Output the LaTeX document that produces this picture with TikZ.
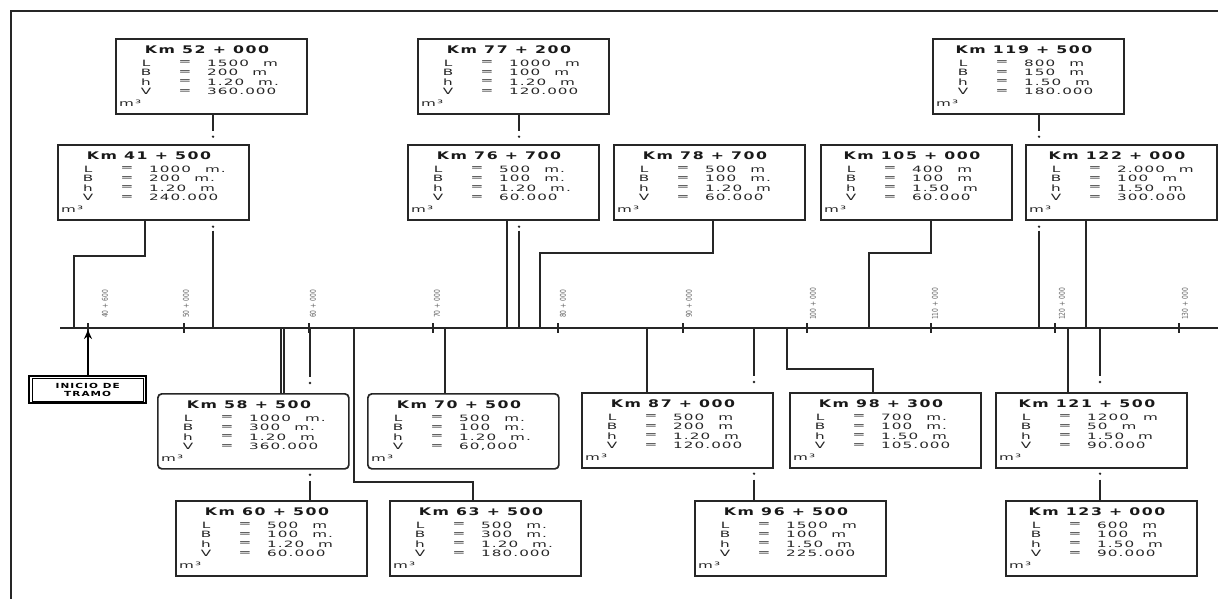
\documentclass[tikz,border=0pt]{standalone}
\usepackage{fontspec}
\newfontfamily\tfont[FakeStretch=1.5,LetterSpace=15]{DejaVu Sans Bold}
\newfontfamily\bfont[FakeStretch=1.75,LetterSpace=12]{DejaVu Sans}
\newfontfamily\cfont[FakeStretch=0.75]{DejaVu Sans}
\usetikzlibrary{arrows.meta,calc}
\tikzset{
 kbox/.style={draw=black!85, line width=1.7pt, fill=white, minimum width=191pt, minimum height=75pt, inner sep=0pt, anchor=north west},
 ktitle/.style={font=\tfont\fontsize{10.5}{12}\selectfont, inner sep=0pt, text=black!90},
 kbody/.style={font=\bfont\fontsize{8.7}{10}\selectfont, inner sep=0pt, text=black!85},
 kval/.style={kbody, anchor=west},
 conn/.style={line width=1.7pt, draw=black!85},
 dotc/.style={fill=black!85},
 tickmark/.style={line width=1.6pt, draw=black!85},
 ticklab/.style={font=\cfont\fontsize{8}{9}\selectfont, rotate=90, inner sep=0pt, text=black!60},
}
\newcommand\uu{\hspace{14pt}}
\newcommand\kmbox[9]{%
 \node[kbox,#1] (#2) at (#3,#4) {};
 \node[ktitle] (#2t) at (#3+92,#4+12) {#5};
 \node[kbody] (#2a) at (#3+31,#4+25) {L};
 \node[kbody] (#2b) at (#3+31,#4+34.5) {B};
 \node[kbody] (#2c) at (#3+31,#4+44) {h};
 \node[kbody] (#2d) at (#3+31,#4+53.5) {V};
 \node[kbody] (#2e) at (#3+70,#4+25) {=};
 \node[kbody] (#2f) at (#3+70,#4+34.5) {=};
 \node[kbody] (#2g) at (#3+70,#4+44) {=};
 \node[kbody] (#2h) at (#3+70,#4+53.5) {=};
 \node[kval] (#2i) at (#3+92,#4+25) {#6};
 \node[kval] (#2j) at (#3+92,#4+34.5) {#7};
 \node[kval] (#2k) at (#3+92,#4+44) {#8};
 \node[kval] (#2l) at (#3+92,#4+53.5) {#9};
 \node[kval] (#2m) at (#3+4,#4+65) {m³};
}
\begin{document}
\begin{tikzpicture}[x=1pt,y=-1pt]
\useasboundingbox (0,0) rectangle (1218,599);
\fill[white] (0,0) rectangle (1218,599);
% frame
\draw[line width=1.4pt, black!85] (1218,11) -- (11,11) -- (11,599);
% axis
\coordinate (axL) at (60,328);
\coordinate (axR) at (1218,328);
\draw[conn] (axL) -- (axR);
% ticks and labels
\foreach \n/\x/\lx/\lab in {40/88/105/40 + 600, 50/184/186/50 + 000, 60/309/313/60 + 000, 70/433/437/70 + 000, 80/558/563/80 + 000, 90/683/689/90 + 000, 100/807/813/100 + 000, 110/931/935/110 + 000, 120/1055/1062/120 + 000, 130/1179/1185/130 + 000}{
 \coordinate (t\n) at (\x,328);
 \draw[tickmark] ($(t\n)+(0,-5)$) -- ($(t\n)+(0,5)$);
 \node[ticklab] (lab\n) at (\lx,304) {\lab};
}
% boxes top
\kmbox{}{n52}{115}{38}{Km 52 + 000}{1500\uu m}{200\uu m}{1.20\uu m.}{360.000}
\kmbox{}{n77}{417}{38}{Km 77 + 200}{1000\uu m}{100\uu m}{1.20\uu m}{120.000}
\kmbox{}{n119}{932}{38}{Km 119 + 500}{800\uu m}{150\uu m}{1.50\uu m}{180.000}
\kmbox{}{n41}{57}{144}{Km 41 + 500}{1000\uu m.}{200\uu m.}{1.20\uu m}{240.000}
\kmbox{}{n76}{407}{144}{Km 76 + 700}{500\uu m.}{100\uu m.}{1.20\uu m.}{60.000}
\kmbox{}{n78}{613}{144}{Km 78 + 700}{500\uu m}{100\uu m.}{1.20\uu m}{60.000}
\kmbox{}{n105}{820}{144}{Km 105 + 000}{400\uu m}{100\uu m}{1.50\uu m}{60.000}
\kmbox{}{n122}{1025}{144}{Km 122 + 000}{2.000\uu m}{100\uu m}{1.50\uu m}{300.000}
% boxes bottom
\kmbox{rounded corners=4pt}{n58}{157}{393}{Km 58 + 500}{1000\uu m.}{300\uu m.}{1.20\uu m}{360.000}
\kmbox{rounded corners=4pt}{n70}{367}{393}{Km 70 + 500}{500\uu m.}{100\uu m.}{1.20\uu m.}{60,000}
\kmbox{}{n87}{581}{392}{Km 87 + 000}{500\uu m}{200\uu m}{1.20\uu m}{120.000}
\kmbox{}{n98}{789}{392}{Km 98 + 300}{700\uu m.}{100\uu m.}{1.50\uu m}{105.000}
\kmbox{}{n121}{995}{392}{Km 121 + 500}{1200\uu m}{50\uu m}{1.50\uu m}{90.000}
\kmbox{}{n60}{175}{500}{Km 60 + 500}{500\uu m}{100\uu m.}{1.20\uu m}{60.000}
\kmbox{}{n63}{389}{500}{Km 63 + 500}{500\uu m.}{300\uu m.}{1.20\uu m.}{180.000}
\kmbox{}{n96}{694}{500}{Km 96 + 500}{1500\uu m}{100\uu m}{1.50\uu m}{225.000}
\kmbox{}{n123}{1005}{500}{Km 123 + 000}{600\uu m}{100\uu m}{1.50\uu m}{90.000}
% connector points
\coordinate (a41) at (74,328);   \coordinate (e41) at (145,256);
\coordinate (a52) at (213,328);
\coordinate (a76) at (507,328);
\coordinate (a77) at (519,328);
\coordinate (a78) at (540,328);  \coordinate (e78) at (713,253);
\coordinate (a105) at (869,328); \coordinate (e105) at (931,253);
\coordinate (a119) at (1039,328);
\coordinate (a122) at (1086,328);
\coordinate (a58a) at (281,328); \coordinate (a58b) at (284,328);
\coordinate (a60) at (310,328);
\coordinate (a63) at (354,328);  \coordinate (e63) at (473,482);
\coordinate (a70) at (445,328);
\coordinate (a87) at (647,328);
\coordinate (a96) at (754,328);
\coordinate (a98) at (787,328);  \coordinate (e98) at (873,369);
\coordinate (a121) at (1068,328);
\coordinate (a123) at (1100,328);
% top connectors
\draw[conn] (n41.south -| e41) -- (e41) -| (a41);
\draw[conn] (n52.south -| a52) -- ++(0,16);
\fill[dotc] ($(n52.south -| a52)+(0,22)$) circle (1.3pt);
\fill[dotc] ($(n41.south -| a52)+(0,6)$) circle (1.3pt);
\draw[conn] ($(n41.south -| a52)+(0,10)$) -- (a52);
\draw[conn] (n76.south -| a76) -- (a76);
\draw[conn] (n77.south -| a77) -- ++(0,16);
\fill[dotc] ($(n77.south -| a77)+(0,22)$) circle (1.3pt);
\fill[dotc] ($(n76.south -| a77)+(0,6)$) circle (1.3pt);
\draw[conn] ($(n76.south -| a77)+(0,10)$) -- (a77);
\draw[conn] (n78.south -| e78) -- (e78) -| (a78);
\draw[conn] (n105.south -| e105) -- (e105) -| (a105);
\draw[conn] (n119.south -| a119) -- ++(0,16);
\fill[dotc] ($(n119.south -| a119)+(0,22)$) circle (1.3pt);
\fill[dotc] ($(n122.south -| a119)+(0,6)$) circle (1.3pt);
\draw[conn] ($(n122.south -| a119)+(0,10)$) -- (a119);
\draw[conn] (n122.south -| a122) -- (a122);
% bottom connectors
\draw[conn, line width=1.4pt] (a58a) -- (n58.north -| a58a);
\draw[conn, line width=1.4pt] (a58b) -- (n58.north -| a58b);
\draw[conn] (a60) -- ($(n58.north -| a60)+(0,-16)$);
\fill[dotc] ($(n58.north -| a60)+(0,-10)$) circle (1.3pt);
\fill[dotc] ($(n58.south -| a60)+(0,5)$) circle (1.3pt);
\draw[conn] ($(n58.south -| a60)+(0,11)$) -- (n60.north -| a60);
\draw[conn] (a63) |- (e63) -- (n63.north -| e63);
\draw[conn] (a70) -- (n70.north -| a70);
\draw[conn] (a87) -- (n87.north -| a87);
\draw[conn] (a96) -- ($(n87.north -| a96)+(0,-16)$);
\fill[dotc] ($(n87.north -| a96)+(0,-10)$) circle (1.3pt);
\fill[dotc] ($(n87.south -| a96)+(0,5)$) circle (1.3pt);
\draw[conn] ($(n87.south -| a96)+(0,11)$) -- (n96.north -| a96);
\draw[conn] (a98) |- (e98) -- (n98.north -| e98);
\draw[conn] (a121) -- (n121.north -| a121);
\draw[conn] (a123) -- ($(n121.north -| a123)+(0,-16)$);
\fill[dotc] ($(n121.north -| a123)+(0,-10)$) circle (1.3pt);
\fill[dotc] ($(n121.south -| a123)+(0,5)$) circle (1.3pt);
\draw[conn] ($(n121.south -| a123)+(0,11)$) -- (n123.north -| a123);
% inicio de tramo
\node[draw=black, line width=2.4pt, minimum width=117pt, minimum height=27pt, anchor=north west, inner sep=0pt, align=center, font=\tfont\fontsize{7}{7.5}\selectfont] (ini) at (28,375) {INICIO DE\\TRAMO};
\draw[line width=0.9pt] ($(ini.north west)+(4,3)$) rectangle ($(ini.south east)+(-4,-3)$);
\draw[line width=1.9pt, -{Stealth[length=9pt,width=8pt]}] (ini.north -| t40) -- ($(t40)+(0,2)$);
\end{tikzpicture}
\end{document}
